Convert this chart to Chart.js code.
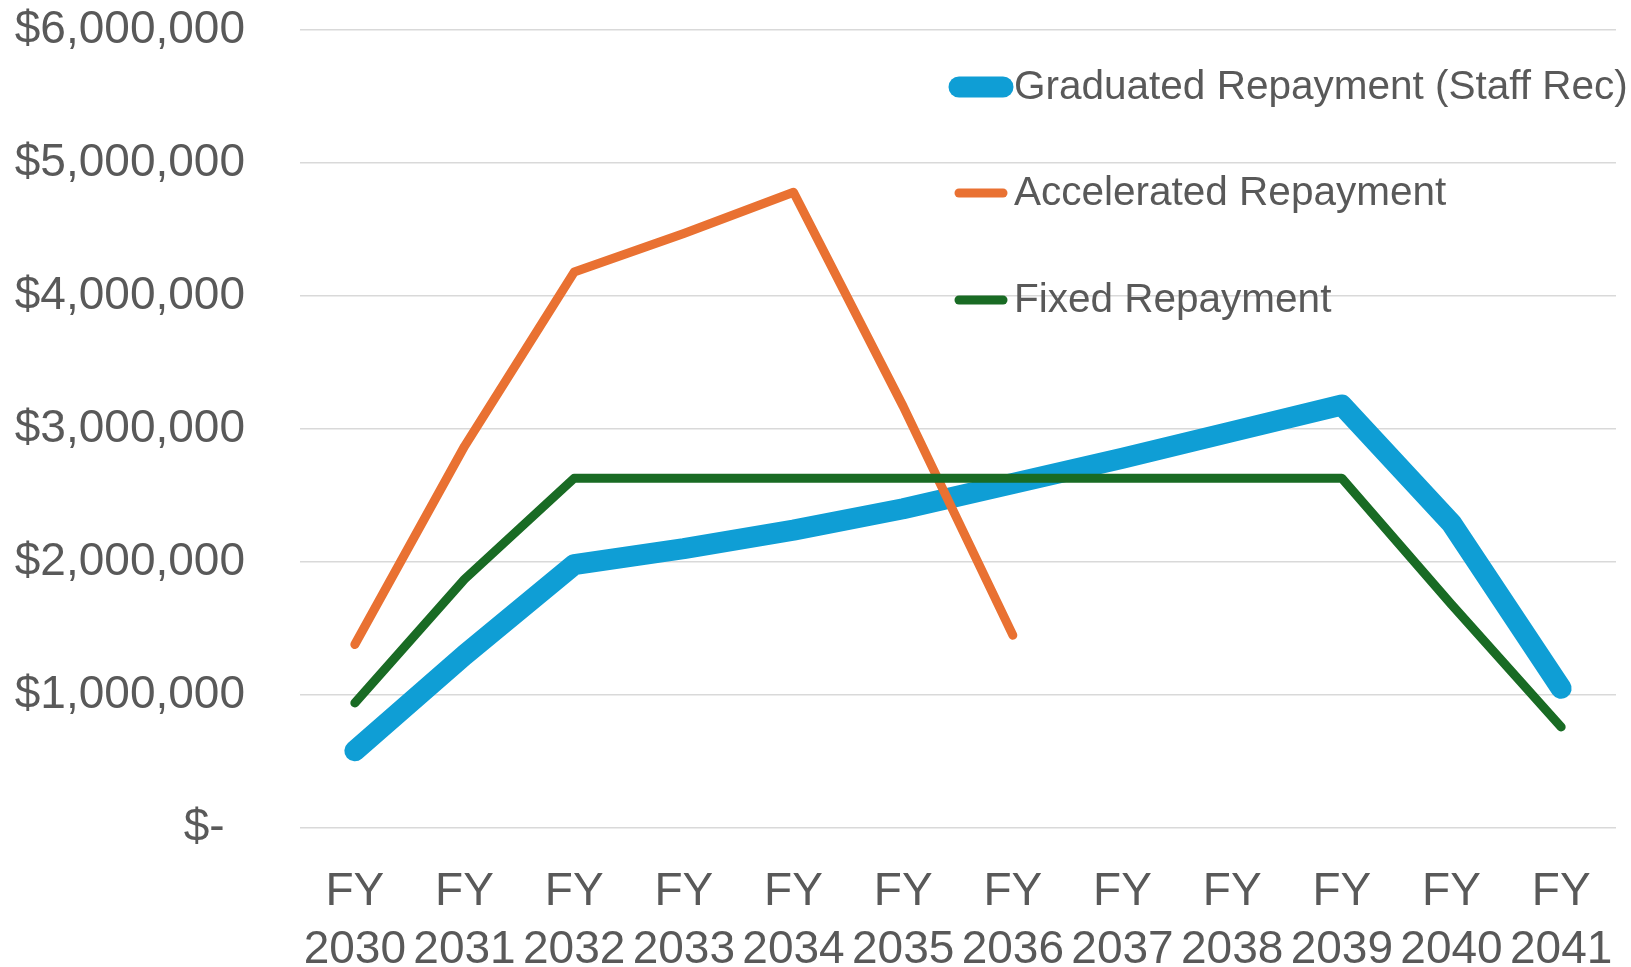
<!DOCTYPE html>
<html>
<head>
<meta charset="utf-8">
<script src="https://cdn.jsdelivr.net/npm/chart.js@4.4.1/dist/chart.umd.min.js"></script>
<style>
  html, body { margin: 0; padding: 0; background: #fff; }
</style>
</head>
<body>
<canvas id="repayChart" width="1631" height="967"></canvas>
<script>
// fiscal years on the x axis
const years = ['2030', '2031', '2032', '2033', '2034', '2035', '2036', '2037', '2038', '2039', '2040', '2041'];
const fyLabels = years.map(y => ['FY', y]);

// yearly repayment amounts ($)
const graduated = [580000, 1300000, 1980000, 2100000, 2240000, 2400000, 2590000, 2780000, 2980000, 3180000, 2290000, 1050000];
const accelerated = [1380000, 2870000, 4180000, 4470000, 4780000, 3170000, 1450000, null, null, null, null, null];
const fixed = [940000, 1870000, 2630000, 2630000, 2630000, 2630000, 2630000, 2630000, 2630000, 2630000, 1680000, 760000];

const seriesNames = ['Graduated Repayment (Staff Rec)', 'Accelerated Repayment', 'Fixed Repayment'];
const seriesColors = ['#0F9ED5', '#E97132', '#196B24'];

const yMin = 0;
const yMax = 6000000;
const yStep = 1000000;

const textColor = '#595959';
const tickFont = { family: '"Liberation Sans", Arial, sans-serif', size: 46, lineHeight: 58 / 46 };

function money(v) {
    if (v === 0) return '$- \u2006';
    return '$' + v.toLocaleString('en-US');
}

// legend drawn over the plot, like the original
const lineLegend = {
    id: 'lineLegend',
    afterDraw(chart) {
        const ctx = chart.ctx;
        const rows = [87, 193, 300];
        ctx.save();
        ctx.font = '40.5px "Liberation Sans", Arial, sans-serif';
        ctx.textBaseline = 'middle';
        ctx.textAlign = 'left';
        chart.data.datasets.forEach(function(ds, i) {
            const y = rows[i];
            ctx.strokeStyle = ds.borderColor;
            ctx.lineWidth = ds.borderWidth;
            ctx.lineCap = 'round';
            ctx.beginPath();
            ctx.moveTo(959, y);
            ctx.lineTo(1003, y);
            ctx.stroke();
            ctx.fillStyle = textColor;
            ctx.fillText(ds.label, 1014, y + 1);
        });
        ctx.restore();
    }
};

const ctx = document.getElementById('repayChart').getContext('2d');
const chart = new Chart(ctx, {
    type: 'line',
    data: {
        labels: fyLabels,
        datasets: [
            {
                label: seriesNames[0],
                data: graduated,
                borderColor: seriesColors[0],
                borderWidth: 21,
                order: 3
            },
            {
                label: seriesNames[1],
                data: accelerated,
                borderColor: seriesColors[1],
                borderWidth: 9,
                order: 2
            },
            {
                label: seriesNames[2],
                data: fixed,
                borderColor: seriesColors[2],
                borderWidth: 9,
                order: 1
            }
        ]
    },
    options: {
        responsive: false,
        animation: false,
        layout: { padding: { top: 30, right: 15, left: 0, bottom: 0 } },
        elements: {
            point: { radius: 0, hoverRadius: 0 },
            line: { tension: 0, borderCapStyle: 'round', borderJoinStyle: 'round', fill: false }
        },
        plugins: {
            legend: { display: false },
            tooltip: { enabled: false }
        },
        scales: {
            x: {
                offset: true,
                grid: { display: false, drawTicks: false },
                border: { display: false },
                ticks: {
                    color: textColor,
                    font: tickFont,
                    padding: 35,
                    maxRotation: 0,
                    autoSkip: false
                },
                afterFit(scale) {
                    scale.height = 139;
                    scale.paddingLeft = 0;
                    scale.paddingRight = 0;
                }
            },
            y: {
                min: yMin,
                max: yMax,
                grid: { color: '#d9d9d9', lineWidth: 1.5, drawTicks: false },
                border: { display: false },
                ticks: {
                    stepSize: yStep,
                    color: textColor,
                    font: tickFont,
                    padding: 55,
                    callback: function(v) { return money(v); }
                },
                afterFit(scale) {
                    scale.width = 300;
                    scale.paddingTop = 0;
                    scale.paddingBottom = 0;
                }
            }
        }
    },
    plugins: [lineLegend]
});
</script>
</body>
</html>
